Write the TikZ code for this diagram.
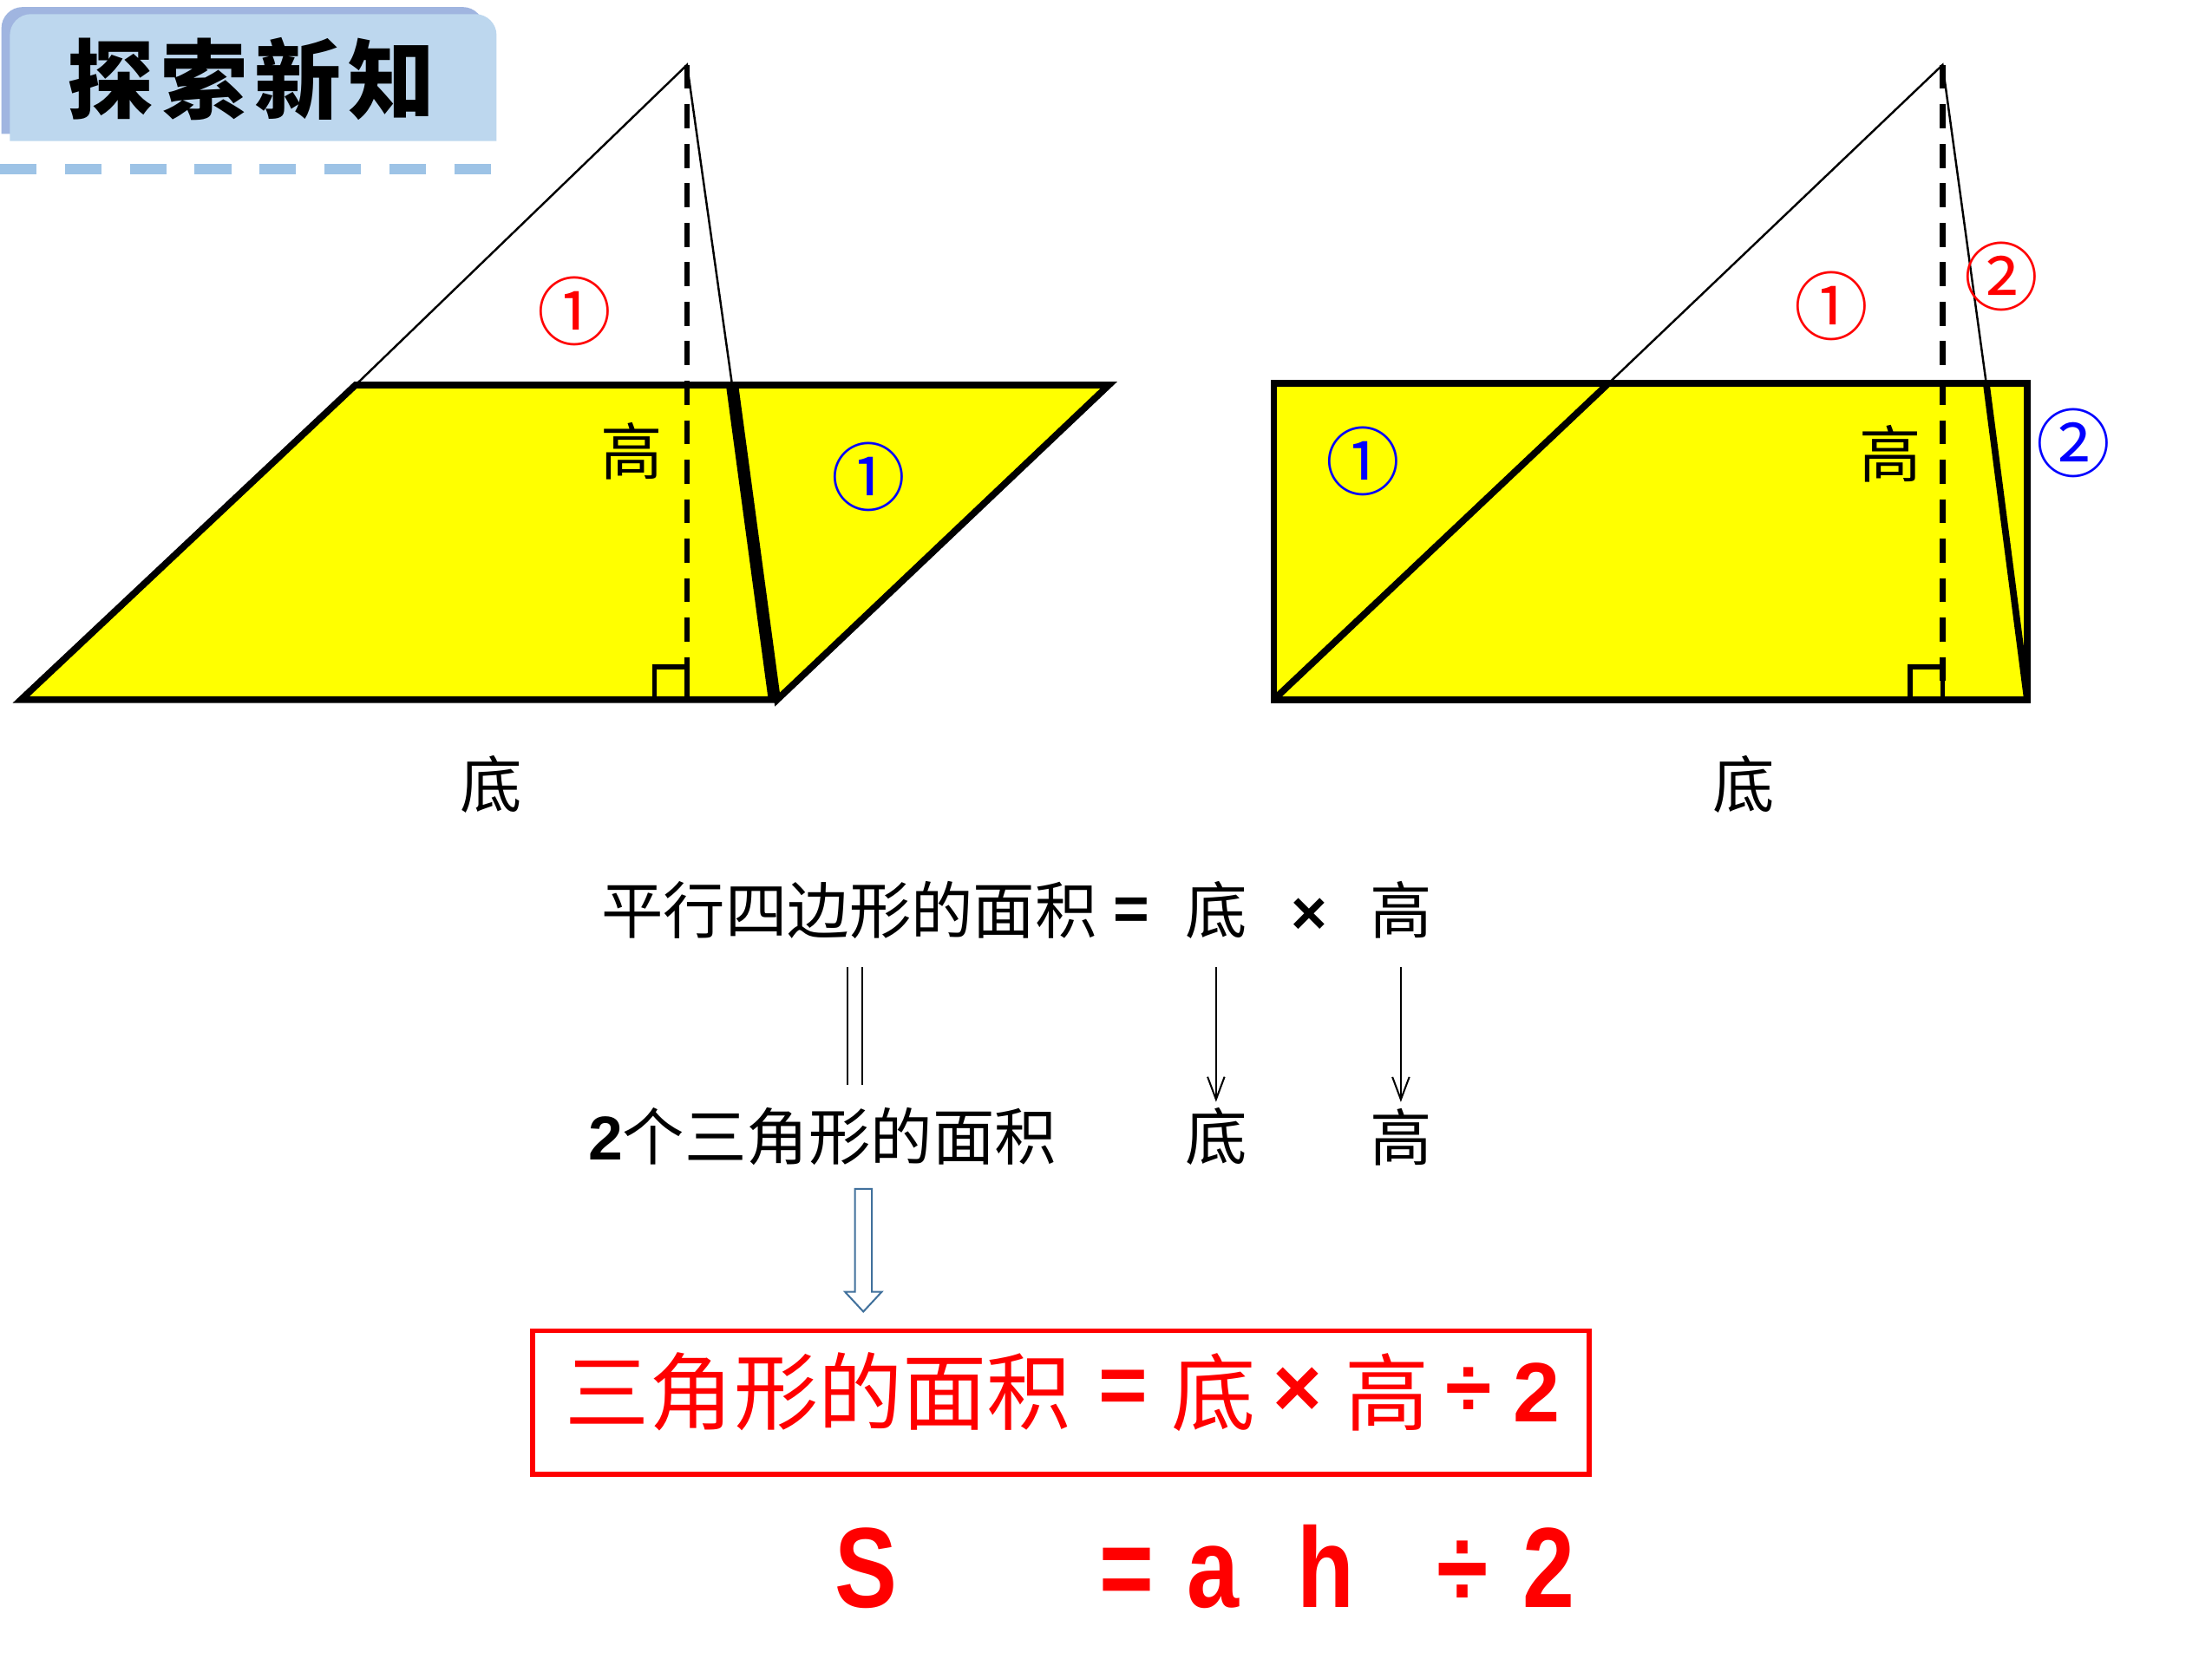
\documentclass[tikz,border=0pt]{standalone}
\usepackage{fontspec}
\usepackage{tikz}
\usetikzlibrary{arrows.meta,positioning}
\setmainfont{Liberation Sans}
\newfontfamily\cjk{Noto Sans CJK SC}
\newfontfamily\fml{Liberation Sans}[FakeStretch=0.82]
\tikzset{lbl/.style={font=\cjk\fontsize{25}{25}\selectfont,inner sep=0pt}}

\begin{document}
\begin{tikzpicture}[
        x=0.02cm, y=-0.02cm,
        outline/.style={line width=0.095cm},
        fold/.style={line width=0.03cm},
        altitude/.style={line width=0.085cm,dash pattern=on 0.34cm off 0.22cm},
        corner/.style={line width=0.07cm},
        circnum/.style={font=\cjk\fontsize{30}{30}\selectfont,inner sep=0pt},
        word/.style={font=\cjk\fontsize{25}{25}\selectfont,inner sep=0pt},
        sym/.style={font=\bfseries\fontsize{25}{25}\selectfont,inner sep=0pt},
        arrow/.style={line width=0.025cm,-{Straight Barb[length=0.32cm,width=0.24cm]}},
        formula/.style={font=\fml\bfseries\fontsize{46}{46}\selectfont,red,inner sep=0pt}
    ]
    \definecolor{tabdark}{RGB}{160,181,224}
    \definecolor{tablight}{RGB}{189,215,238}
    \definecolor{tabdash}{RGB}{157,195,230}
    \definecolor{hollowblue}{RGB}{65,113,156}
    \definecolor{paper}{RGB}{255,255,0}
    \useasboundingbox (0,0) rectangle (1568,1176);

    % title tab
    \fill [tabdark] (1,95) [rounded corners=0.3cm] -- (1,5) -- (343,5) [sharp corners] -- (343,95) -- cycle;
    \fill [tablight] (7,100) [rounded corners=0.3cm] -- (7,10) -- (352,10) [sharp corners] -- (352,100) -- cycle;
    \node [font=\cjk\bfseries\fontsize{35}{35}\selectfont,inner sep=0pt] (title) at (178,56)
        {探\hspace{0.08em}索\hspace{0.08em}新\hspace{0.08em}知};
    \draw [tabdash,line width=0.14cm,dash pattern=on 0.52cm off 0.4cm] (0,120) -- (349,120);

    % parallelogram, cut along the fold
    \begin{scope}[every path/.append style={outline}]
        \filldraw [fill=paper] (15,496) -- (252,273) -- (517,273) -- (547,496) -- cycle;
        \filldraw [fill=paper] (521,273) -- (786,273) -- (551,496) -- cycle;
    \end{scope}
    \draw [fold] (252,273) -- (487,46) -- (519,273);
    \draw [altitude] (487,46) -- (487,496);
    \draw [corner] (464,496) rectangle (487,473);
    \node [circnum,red] (lred1) at (407,221) {①};
    \node [lbl] (lhigh) at (448,320) {高};
    \node [circnum,blue] (lblue1) at (616,338) {①};
    \node [lbl] (lbase) at (348,556) {底};

    % rectangle
    \begin{scope}[every path/.append style={outline}]
        \filldraw [fill=paper] (903,272) rectangle (1437,496);
        \draw (903,496) -- (1140,272);
        \draw (1408,272) -- (1437,496);
    \end{scope}
    \draw [fold] (1140,272) -- (1377,46) -- (1408,272);
    \draw [altitude] (1377,46) -- (1377,496);
    \draw [corner] (1354,496) rectangle (1377,473);
    \node [circnum,red] (rred1) at (1298,217) {①};
    \node [circnum,red] (rred2) at (1419,196) {②};
    \node [lbl] (rhigh) at (1340,322) {高};
    \node [circnum,blue] (rblue1) at (966,327) {①};
    \node [circnum,blue] (rblue2) at (1470,314) {②};
    \node [lbl] (rbase) at (1236,556) {底};

    % words
    \node [word] (para) at (602,645) {平行四边形的面积};
    \node [sym] (eq) at (802,648) {=};
    \node [lbl] (pbase) at (862,645) {底};
    \node [sym] (times) at (928,650) {×};
    \node [lbl] (phigh) at (993,645) {高};
    \node [word] (tri) at (583,806) {{\normalfont\bfseries 2}个三角形的面积};
    \node [lbl] (tbase) at (862,806) {底};
    \node [lbl] (thigh) at (993,806) {高};

    \draw [line width=0.025cm,double,double distance=0.175cm]
        ([xshift=0.08cm,yshift=-0.4cm]para.south) -- ([xshift=0.08cm,yshift=0.32cm]para.south |- tri.north);
    \draw [arrow] ([yshift=-0.4cm]pbase.south) -- ([yshift=0.08cm]tbase.north);
    \draw [arrow] ([yshift=-0.4cm]phigh.south) -- ([yshift=0.08cm]thigh.north);
    \draw [hollowblue,line width=0.025cm,fill=white]
        (606,843) -- (606,916) -- (599,916) -- (612,930) -- (625,916) -- (618,916) -- (618,843) -- cycle;

    % the rule
    \node [draw=red,line width=0.07cm,minimum width=14.98cm,minimum height=2.04cm,inner sep=0pt] (box) at (752,994.5) {};
    \foreach \t/\x/\f [count=\i] in {三角形的面积/580/\cjk,=/796/\bfseries,底/860/\cjk,×/920/\bfseries,高/983/\cjk,÷/1041/\bfseries,2/1089/\bfseries}
        \node [red,inner sep=0pt,font=\f\fontsize{34}{34}\selectfont] (rule\i) at (\x,987) {\t};
    \foreach \t/\x [count=\i] in {S/614,=/799,a/860,h/940,÷/1037,2/1098}
        \node [formula,anchor=base] (ah\i) at (\x,1140) {\t};
\end{tikzpicture}
\end{document}
